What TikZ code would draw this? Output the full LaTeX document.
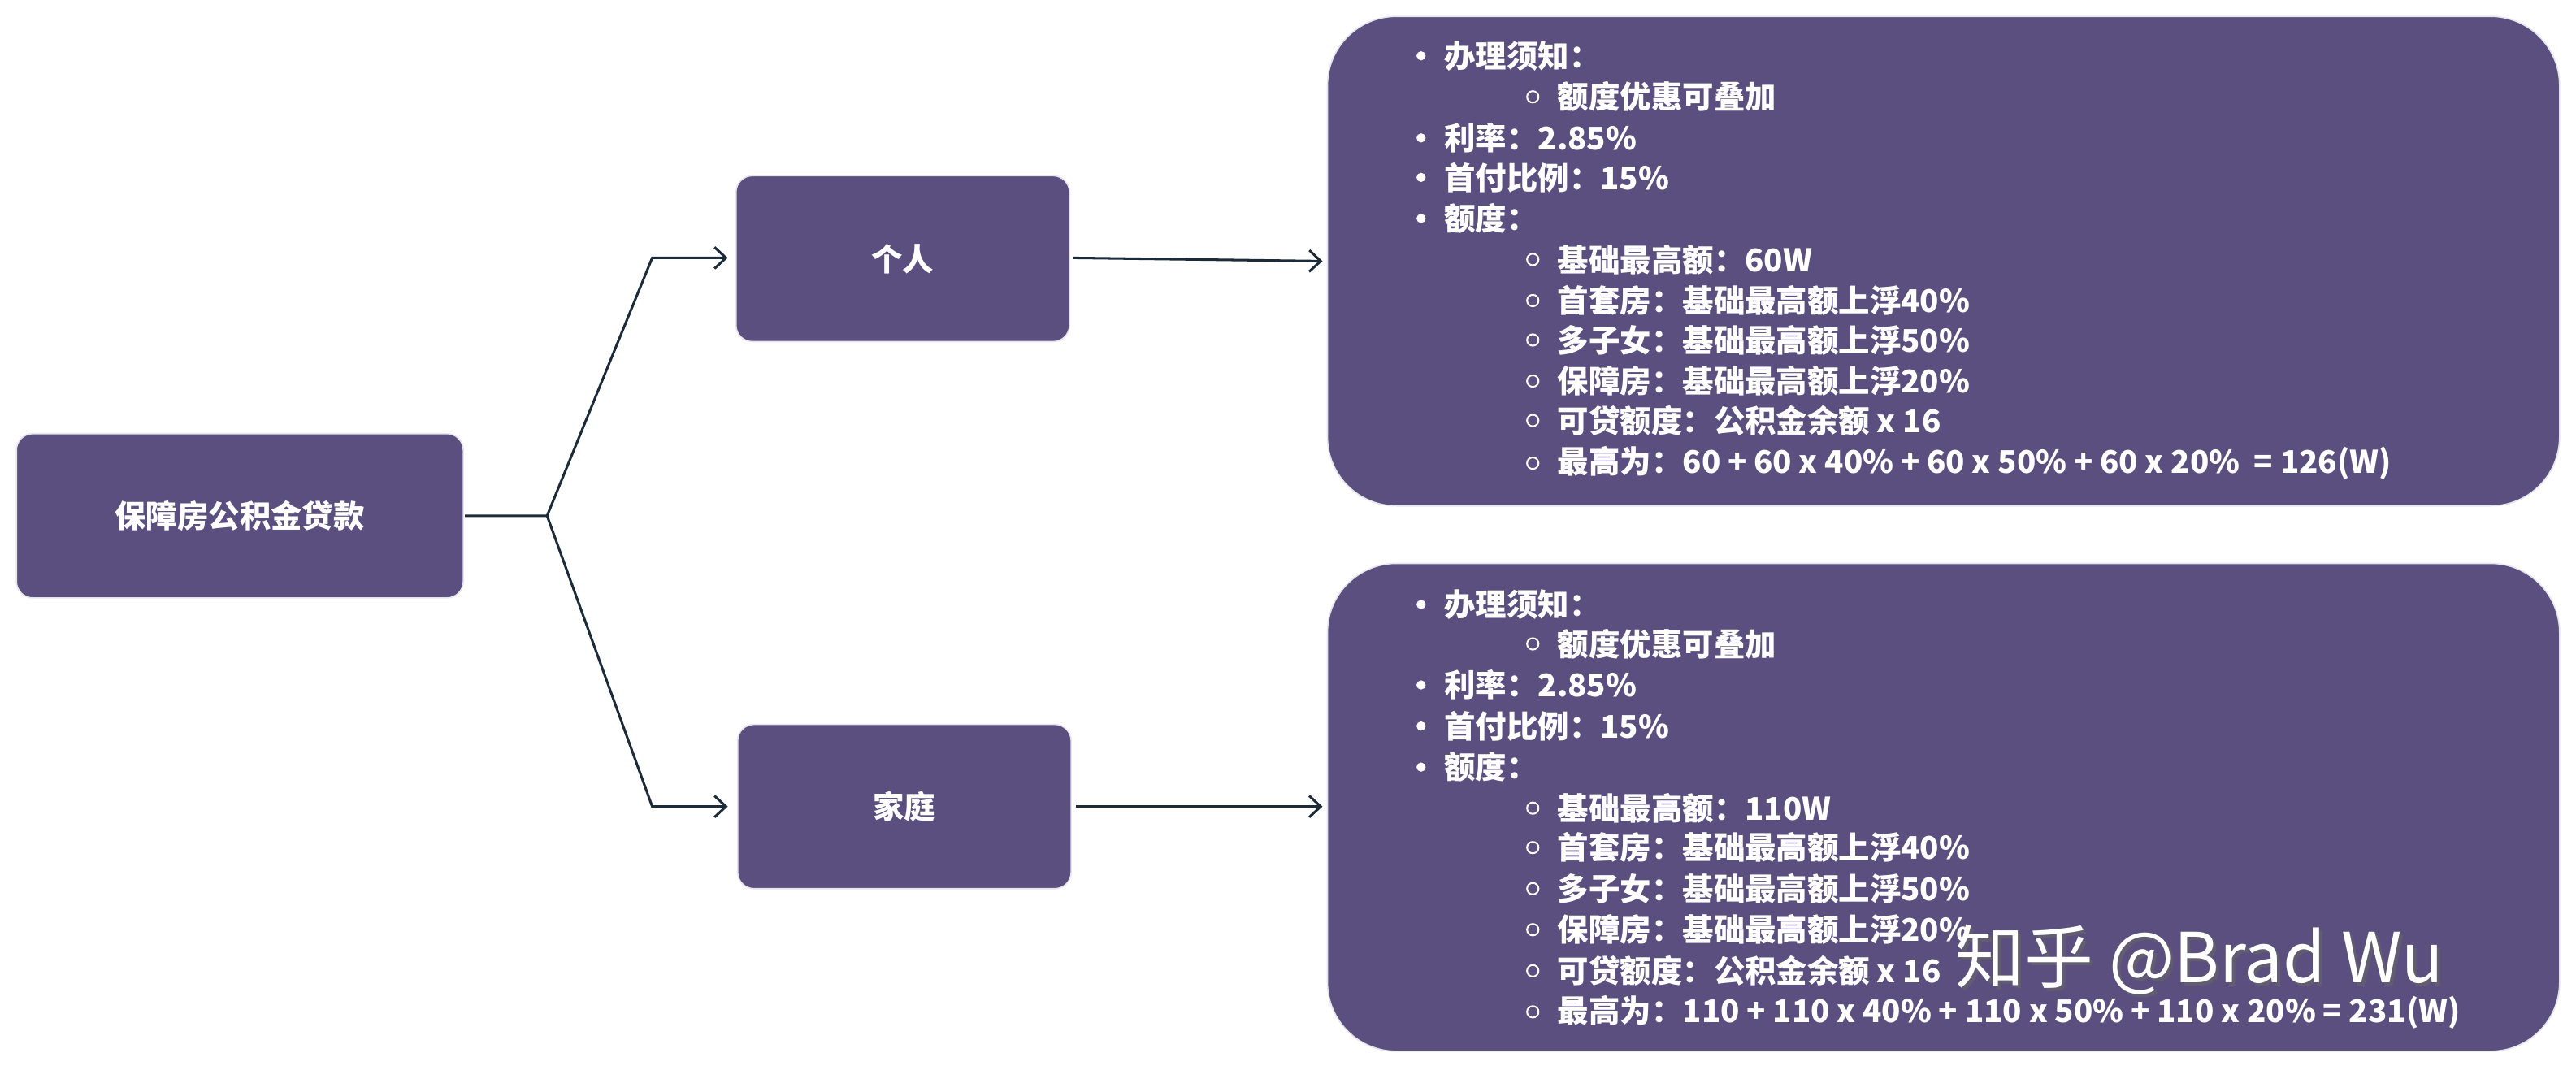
\documentclass[tikz,border=0pt]{standalone}
\usepackage{fontspec}
\setmainfont{Noto Sans CJK SC}
\usetikzlibrary{arrows.meta}
\definecolor{boxc}{HTML}{5A4F7E}
\definecolor{linec}{HTML}{1C2B3A}
\begin{document}
\begin{tikzpicture}[x=1pt,y=-1pt,
 box/.style={draw=white!85!boxc,line width=0.8pt,fill=boxc,rounded corners=10pt},
 big/.style={draw=white!85!boxc,line width=0.8pt,fill=boxc,rounded corners=42pt},
 lbl/.style={text=white,font=\fontsize{19}{21}\selectfont\bfseries,inner sep=0pt},
 ln/.style={lbl,anchor=west},
 conn/.style={draw=linec,line width=1.5pt,-{Straight Barb[length=7pt,width=13pt,line width=1.5pt]}},
 dot/.style={fill=white,draw=none},
 hol/.style={draw=white,line width=1pt,fill=none}]
\useasboundingbox (0,0) rectangle (1568,651);
\fill[white] (0,0) rectangle (1568,651);
\draw[box] (10,264) rectangle (282,364);
\node[lbl] (root) at (146,314) {保障房公积金贷款};
\draw[box] (448,107) rectangle (651,208);
\node[lbl] (p) at (549.5,157.5) {个人};
\draw[box] (449,441) rectangle (652,541);
\node[lbl] (f) at (550.5,491) {家庭};
\coordinate (rr) at (283,314);
\coordinate (j) at (333,314);
\coordinate (pa) at (397,157);
\coordinate (fa) at (397,491);
\coordinate (pin) at (443,157);
\coordinate (fin) at (443,491);
\coordinate (pout) at (653,157);
\coordinate (fout) at (655,491);
\coordinate (t1) at (805,159);
\coordinate (t2) at (805,491);
\draw[conn] (rr) -- (j) -- (pa) -- (pin);
\draw[conn] (j) -- (fa) -- (fin);
\draw[conn] (pout) -- (t1);
\draw[conn] (fout) -- (t2);
\draw[big] (808,10) rectangle (1558,308);
\draw[big] (808,343) rectangle (1558,640);
% top list
\foreach \y/\t in {34/办理须知：,84/利率：2.85\%,108/首付比例：15\%,133/额度：}{\fill[dot] (865,\y) circle (2.8); \node[ln] at (879,\y) {\t};}
\foreach \y/\t in {59/额度优惠可叠加,158/基础最高额：60W,183/首套房：基础最高额上浮40\%,207/多子女：基础最高额上浮50\%,232/保障房：基础最高额上浮20\%,256/可贷额度：公积金余额 x 16,282/最高为：60 + 60 x 40\% + 60 x 50\% + 60 x 20\%~ = 126(W)}{\draw[hol] (933,\y) circle (3.5); \node[ln] at (948,\y) {\t};}
% bottom list
\foreach \y/\t in {368/办理须知：,417/利率：2.85\%,442/首付比例：15\%,467/额度：}{\fill[dot] (865,\y) circle (2.8); \node[ln] at (879,\y) {\t};}
\foreach \y/\t in {392/额度优惠可叠加,492/基础最高额：110W,516/首套房：基础最高额上浮40\%,541/多子女：基础最高额上浮50\%,566/保障房：基础最高额上浮20\%,591/可贷额度：公积金余额 x 16,616/最高为：110 + 110 x 40\% + 110 x 50\% + 110 x 20\% = 231(W)}{\draw[hol] (933,\y) circle (3.5); \node[ln] at (948,\y) {\t};}
\node[text=black!60,opacity=0.6,font=\fontsize{42}{46}\selectfont,anchor=west,inner sep=0pt] (wm0) at (1192,586) {知乎 @Brad Wu};
\node[text=white,font=\fontsize{42}{46}\selectfont,anchor=west,inner sep=0pt] (wm) at (1190,584) {知乎 @Brad Wu};
\end{tikzpicture}
\end{document}
